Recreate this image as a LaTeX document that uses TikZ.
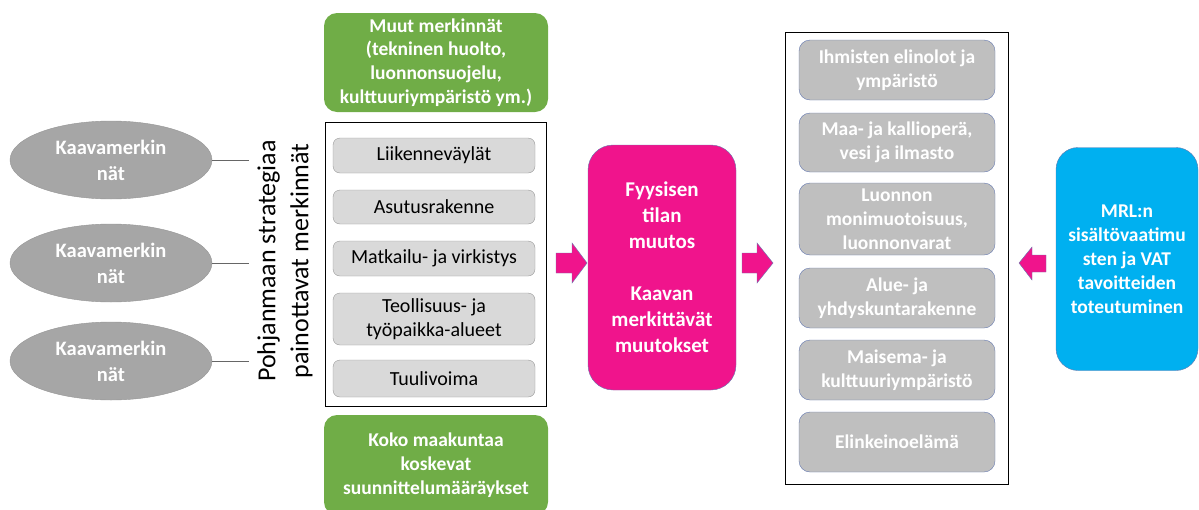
\documentclass[tikz,border=0pt]{standalone}
\usepackage{fontspec}
\setmainfont{Carlito}
\usetikzlibrary{shapes.geometric}

\definecolor{kgreen}{RGB}{112,173,71}
\definecolor{kpink}{RGB}{240,20,140}
\definecolor{kblue}{RGB}{0,176,240}
\definecolor{kellgray}{RGB}{166,166,166}
\definecolor{kboxgray}{RGB}{191,191,191}
\definecolor{klight}{RGB}{217,217,217}
\definecolor{kedge}{RGB}{100,120,175}

\tikzset{
  kaava/.style={ellipse,fill=kellgray,draw=kellgray!90!black,minimum width=202,minimum height=78,
    inner sep=0,align=center,text=white,font=\fontsize{20.5}{26}\selectfont\bfseries},
  greenbox/.style={rectangle,rounded corners=13,fill=kgreen,minimum width=224,
    inner sep=0,align=center,text=white,font=\fontsize{19.5}{23.7}\selectfont\bfseries},
  teema/.style={rectangle,rounded corners=7,fill=klight,draw=gray!80,minimum width=202,
    inner sep=0,align=center,font=\fontsize{20}{24}\selectfont},
  vaikutus/.style={rectangle,rounded corners=11,fill=kboxgray,draw=kedge,minimum width=196,minimum height=60,
    inner sep=0,align=center,text=white,font=\fontsize{19.5}{24}\selectfont\bfseries},
  isobox/.style={rectangle,draw=kedge,inner sep=0,align=center,text=white}
}

\begin{document}
\begin{tikzpicture}[x=1pt,y=-1pt]
\useasboundingbox (0,0) rectangle (1199,509);

% ellipsit
\node[kaava] (e1) at (111,160) {Kaavamerkin\\nät};
\node[kaava] (e2) at (111,263) {Kaavamerkin\\nät};
\node[kaava] (e3) at (111,361) {Kaavamerkin\\nät};
\coordinate (t1) at (249,160);
\coordinate (t2) at (249,263);
\coordinate (t3) at (249,361);
\path[draw,gray!80!black,thin] (e1.east) -- (t1);
\path[draw,gray!80!black,thin] (e2.east) -- (t2);
\path[draw,gray!80!black,thin] (e3.east) -- (t3);

\node[rotate=90,align=center,font=\fontsize{26}{33}\selectfont] (strat) at (285,261)
  {Pohjanmaan strategiaa\\painottavat merkinnät};

% keskimmainen
\node[greenbox,minimum height=99] (muut) at (436,62.5)
  {Muut merkinnät\\(tekninen huolto,\\luonnonsuojelu,\\kulttuuriympäristö ym.)};
\node[draw,fill=white,minimum width=221,minimum height=284,inner sep=0] (kehys) at (435.5,264) {};
\node[teema,minimum height=35] (liik) at (434,155.5) {Liikenneväylät};
\node[teema,minimum height=34] (asut) at (434,207) {Asutusrakenne};
\node[teema,minimum height=35] (matk) at (434,258.5) {Matkailu- ja virkistys};
\node[teema,minimum height=52] (teol) at (434,319) {Teollisuus- ja\\työpaikka-alueet};
\node[teema,minimum height=37] (tuul) at (434,378.5) {Tuulivoima};
\node[greenbox,minimum height=100] (koko) at (436,465)
  {Koko maakuntaa\\koskevat\\suunnittelumääräykset};

% nuolet
\path[draw=kedge,fill=kpink] (556,253) -- (572,253) -- (572,243) -- (587,263) -- (572,283) -- (572,273) -- (556,273) -- cycle;
\path[draw=kedge,fill=kpink] (742,253) -- (757,253) -- (757,243) -- (773,263) -- (757,283) -- (757,273) -- (742,273) -- cycle;
\path[draw=kedge,fill=kpink] (1046,255) -- (1032,255) -- (1032,247) -- (1019,263) -- (1032,280) -- (1032,272) -- (1046,272) -- cycle;

\node[isobox,fill=kpink,rounded corners=25,minimum width=148,minimum height=245,
  font=\fontsize{21}{26}\selectfont\bfseries] (muutos) at (662,267.5)
  {Fyysisen\\tilan\\muutos\\[26pt]Kaavan\\merkittävät\\muutokset};

% vaikutukset
\node[draw,minimum width=223,minimum height=452,inner sep=0] (vkehys) at (896.5,258) {};
\node[vaikutus] (v1) at (897,70) {Ihmisten elinolot ja\\ympäristö};
\node[vaikutus,minimum height=59] (v2) at (897,142.5) {Maa- ja kallioperä,\\vesi ja ilmasto};
\node[vaikutus,minimum height=72] (v3) at (897,219) {Luonnon\\monimuotoisuus,\\luonnonvarat};
\node[vaikutus] (v4) at (897,298) {Alue- ja\\yhdyskuntarakenne};
\node[vaikutus] (v5) at (897,370) {Maisema- ja\\kulttuuriympäristö};
\node[vaikutus] (v6) at (897,442) {Elinkeinoelämä};

\node[isobox,fill=kblue,rounded corners=22,minimum width=142,minimum height=223,
  font=\fontsize{19.5}{24}\selectfont\bfseries] (mrl) at (1127,259)
  {MRL:n\\sisältövaatimu\\sten ja VAT\\tavoitteiden\\toteutuminen};

\end{tikzpicture}
\end{document}
